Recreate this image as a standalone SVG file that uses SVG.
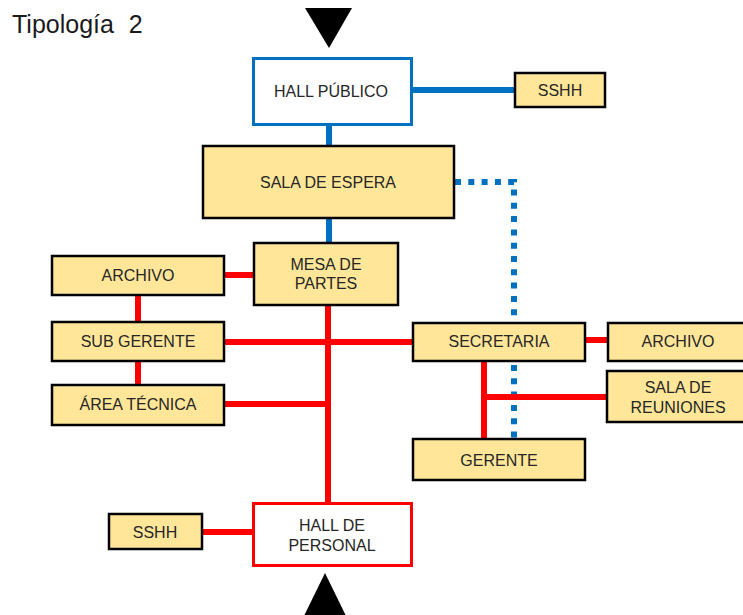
<svg xmlns="http://www.w3.org/2000/svg" width="743" height="615" viewBox="0 0 743 615">
<style>
.n{fill:#FFE699;stroke:#000;stroke-width:2.5}
.w{fill:#fff;stroke-width:3}
.t{font-family:"Liberation Sans",Arial,sans-serif;font-size:16px;fill:#262626;text-anchor:middle}
.r{stroke:#FF0000;stroke-width:6;fill:none}
.b{stroke:#0070C0;stroke-width:6;fill:none}
.d{stroke:#0070C0;stroke-width:6;fill:none;stroke-dasharray:6 7.3}
</style>
<rect width="743" height="615" fill="#fff"/>
<text x="12" y="33" font-family="'Liberation Sans',Arial,sans-serif" font-size="25" fill="#1a1a1a" word-spacing="8">Tipología 2</text>
<polygon points="305,8 352,8 329,48" fill="#000"/>
<polygon points="302,620 348,620 325,573" fill="#000"/>
<g id="connectors">
<line class="b" x1="329" y1="124" x2="329" y2="146"/>
<line class="b" x1="411" y1="90" x2="515" y2="90"/>
<line class="b" x1="329" y1="218" x2="329" y2="243"/>
<path class="d" d="M455,182 H514 V322"/>
<path class="d" d="M514,365 V438"/>
<line class="r" x1="224" y1="275" x2="254" y2="275"/>
<line class="r" x1="138" y1="295" x2="138" y2="322"/>
<line class="r" x1="138" y1="361" x2="138" y2="385"/>
<line class="r" x1="328" y1="305" x2="328" y2="503"/>
<line class="r" x1="224" y1="342" x2="413" y2="342"/>
<line class="r" x1="224" y1="404" x2="328" y2="404"/>
<line class="r" x1="585" y1="340" x2="608" y2="340"/>
<line class="r" x1="484" y1="361" x2="484" y2="439"/>
<line class="r" x1="484" y1="397" x2="607" y2="397"/>
<line class="r" x1="202" y1="532" x2="253" y2="532"/>
</g>
<g id="hall-publico"><rect class="w" x="253.5" y="58.5" width="158" height="66" stroke="#0070C0"/><text class="t" x="331" y="97">HALL PÚBLICO</text></g>
<g id="sshh-top"><rect class="n" x="515" y="73" width="90" height="34"/><text class="t" x="560" y="96">SSHH</text></g>
<g id="sala-espera"><rect class="n" x="203" y="146" width="251" height="72"/><text class="t" x="328" y="188">SALA DE ESPERA</text></g>
<g id="mesa-partes"><rect class="n" x="254" y="243" width="144" height="62"/><text class="t" x="326" y="270">MESA DE</text><text class="t" x="326" y="289">PARTES</text></g>
<g id="archivo-left"><rect class="n" x="52" y="256" width="172" height="39"/><text class="t" x="138" y="281">ARCHIVO</text></g>
<g id="sub-gerente"><rect class="n" x="52" y="322" width="172" height="39"/><text class="t" x="138" y="347">SUB GERENTE</text></g>
<g id="area-tecnica"><rect class="n" x="52" y="385" width="172" height="40"/><text class="t" x="138" y="410">ÁREA TÉCNICA</text></g>
<g id="secretaria"><rect class="n" x="413" y="323" width="172" height="38"/><text class="t" x="499" y="347">SECRETARIA</text></g>
<g id="archivo-right"><rect class="n" x="608" y="323" width="140" height="38"/><text class="t" x="678" y="347">ARCHIVO</text></g>
<g id="sala-reuniones"><rect class="n" x="607" y="371" width="140" height="51"/><text class="t" x="678" y="393">SALA DE</text><text class="t" x="678" y="413">REUNIONES</text></g>
<g id="gerente"><rect class="n" x="413" y="439" width="172" height="41"/><text class="t" x="499" y="466">GERENTE</text></g>
<g id="hall-personal"><rect class="w" x="253.5" y="503.5" width="158" height="62" stroke="#FF0000"/><text class="t" x="332" y="531">HALL DE</text><text class="t" x="332" y="551">PERSONAL</text></g>
<g id="sshh-bottom"><rect class="n" x="109" y="514" width="93" height="35"/><text class="t" x="155" y="538">SSHH</text></g>
</svg>
